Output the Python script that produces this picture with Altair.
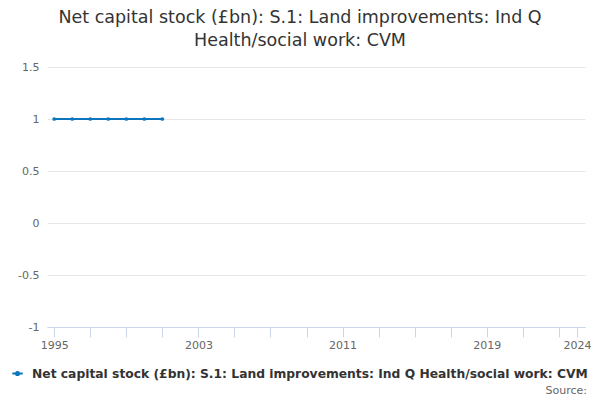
import altair as alt
import pandas as pd

years = [1995, 1996, 1997, 1998, 1999, 2000, 2001]
values = [1, 1, 1, 1, 1, 1, 1]
series_name = "Net capital stock (£bn): S.1: Land improvements: Ind Q Health/social work: CVM"
title_lines = ["Net capital stock (£bn): S.1: Land improvements: Ind Q", "Health/social work: CVM"]
x_tick_values = [1995, 1997, 1999, 2001, 2003, 2005, 2007, 2009, 2011, 2013, 2015, 2017, 2019, 2021, 2023, 2024]
x_label_values = [1995, 2003, 2011, 2019, 2024]
y_tick_values = [-1, -0.5, 0, 0.5, 1, 1.5]

df = pd.DataFrame({"year": years, "value": values, "series": [series_name] * len(years)})
color = "#0b76bd"
font = "DejaVu Sans"

label_test = " || ".join(f"datum.value == {v}" for v in x_label_values)

base = alt.Chart(df)
line = base.mark_line(strokeWidth=2, point=alt.OverlayMarkDef(size=14, filled=True, color=color)).encode(
    x=alt.X("year:Q",
            scale=alt.Scale(domain=[1994.6, 2024.45], nice=False, zero=False),
            axis=alt.Axis(values=x_tick_values, title=None, grid=False,
                          labelExpr=f"({label_test}) ? '' + datum.value : ''",
                          tickColor="#ccd6eb", domainColor="#ccd6eb", tickSize=10,
                          labelColor="#666666", labelFontSize=11, labelFont=font,
                          labelPadding=2, labelFlush=False)),
    y=alt.Y("value:Q",
            scale=alt.Scale(domain=[-1, 1.5], nice=False),
            axis=alt.Axis(values=y_tick_values, title=None, domain=False, ticks=False,
                          gridColor="#e6e6e6", labelColor="#666666", labelFontSize=11,
                          labelFont=font, labelPadding=8,
                          labelExpr="'' + datum.value")),
    color=alt.Color("series:N", scale=alt.Scale(range=[color]),
                    legend=alt.Legend(title=None, orient="none", legendX=-36, legendY=300,
                                      labelFont=font, labelFontSize=12.3, labelFontWeight="bold",
                                      labelColor="#333333", labelLimit=700, labelOffset=8,
                                      symbolType="M-1,0L1,0M-0.3,0a0.3,0.3 0 1,0 0.6,0a0.3,0.3 0 1,0 -0.6,0",
                                      symbolStrokeWidth=2, symbolFillColor=color,
                                      symbolStrokeColor=color, symbolSize=110)),
)

source = alt.Chart(pd.DataFrame({"t": ["Source:"]})).mark_text(
    align="right", baseline="middle", font=font, fontSize=11, color="#666666"
).encode(x=alt.value(540), y=alt.value(324), text="t:N")

chart = alt.layer(line, source).properties(
    width=538, height=260,
    padding={"left": 39, "top": 59, "right": 6, "bottom": 75},
    autosize=alt.AutoSizeParams(type="none"),
    title=alt.TitleParams(title_lines, font=font, fontSize=17.5, fontWeight="normal",
                          color="#333333", anchor="middle", dx=-16, offset=12, lineHeight=23),
).configure_view(stroke=None)

chart.save("out.html", embed_options={"renderer": "svg", "actions": False})
